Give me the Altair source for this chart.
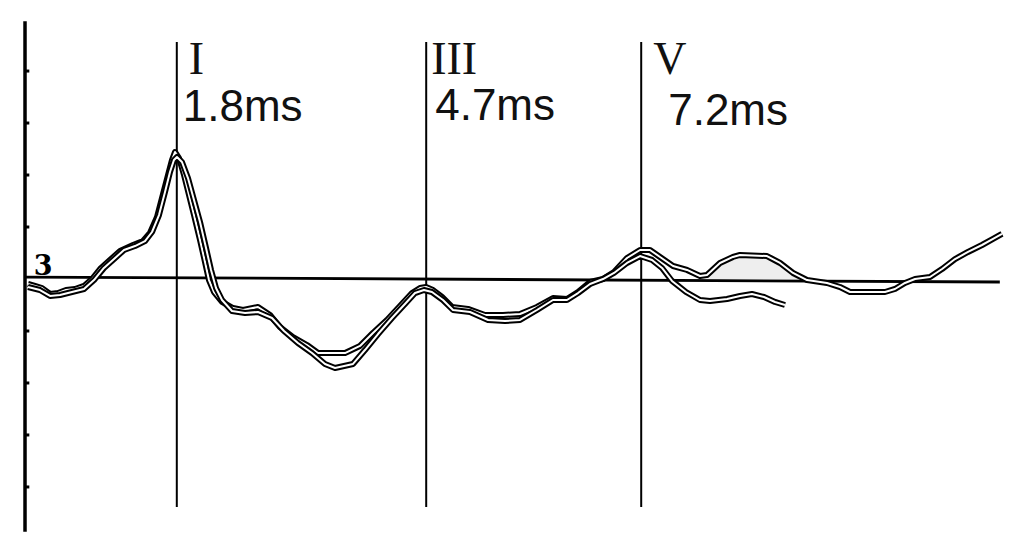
import altair as alt
import pandas as pd

# ---- data (time in ms, amplitude in arbitrary µV-like units) ----
trace_a_ms = [0.070, 0.151, 0.233, 0.326, 0.419, 0.512, 0.616, 0.721, 0.814, 0.907,
              1.023, 1.140, 1.291, 1.407, 1.488, 1.570, 1.640, 1.698, 1.744, 1.779,
              1.826, 1.884, 1.942, 2.000, 2.070, 2.128, 2.174, 2.233, 2.326, 2.453,
              2.570, 2.744, 2.884, 3.000, 3.151, 3.314, 3.442, 3.756, 3.930, 4.081,
              4.244, 4.395, 4.535, 4.628, 4.698, 4.779, 4.884, 5.000, 5.186, 5.384,
              5.593, 5.791, 5.988, 6.174, 6.337, 6.465, 6.605, 6.756, 6.884, 7.035,
              7.186, 7.302, 7.419, 7.570, 7.733, 7.884, 7.965, 8.116, 8.267, 8.349,
              8.663, 8.814, 8.965, 9.128, 9.360, 9.512, 9.628, 10.035, 10.151, 10.267,
              10.384, 10.558, 10.698, 10.849, 11.000, 11.163, 11.291, 11.395]
trace_a_uv = [-0.048, -0.067, -0.087, -0.144, -0.135, -0.106, -0.096, -0.067, 0.000, 0.096,
              0.183, 0.269, 0.327, 0.365, 0.442, 0.596, 0.817, 1.000, 1.144, 1.221,
              1.163, 1.000, 0.808, 0.615, 0.375, 0.163, -0.010, -0.125, -0.221, -0.279,
              -0.298, -0.269, -0.346, -0.462, -0.558, -0.635, -0.712, -0.712, -0.644, -0.519,
              -0.394, -0.260, -0.135, -0.087, -0.077, -0.106, -0.173, -0.269, -0.288, -0.346,
              -0.346, -0.337, -0.269, -0.183, -0.192, -0.125, -0.029, 0.000, 0.067, 0.202,
              0.279, 0.279, 0.212, 0.125, 0.087, 0.029, 0.038, 0.154, 0.212, 0.231,
              0.221, 0.154, 0.058, -0.010, -0.038, -0.077, -0.125, -0.125, -0.096, -0.038,
              0.000, 0.019, 0.096, 0.192, 0.260, 0.327, 0.385, 0.433]

trace_b_ms = [0.070, 0.209, 0.326, 0.442, 0.581, 0.721, 0.837, 0.953, 1.070, 1.186,
              1.314, 1.430, 1.512, 1.593, 1.663, 1.721, 1.767, 1.802, 1.860, 1.930,
              2.000, 2.070, 2.140, 2.198, 2.256, 2.326, 2.442, 2.593, 2.744, 2.907,
              3.047, 3.209, 3.372, 3.523, 3.640, 3.849, 3.988, 4.140, 4.302, 4.453,
              4.570, 4.674, 4.767, 4.895, 5.012, 5.209, 5.419, 5.616, 5.791, 5.988,
              6.174, 6.337, 6.465, 6.605, 6.756, 6.884, 7.035, 7.186, 7.326, 7.442,
              7.558, 7.721, 7.884, 8.000, 8.198, 8.349, 8.488, 8.628, 8.756, 8.872]
trace_b_uv = [-0.077, -0.106, -0.163, -0.154, -0.125, -0.096, -0.010, 0.106, 0.192, 0.279,
              0.317, 0.365, 0.452, 0.615, 0.837, 1.029, 1.144, 1.173, 1.125, 0.971,
              0.760, 0.548, 0.298, 0.087, -0.087, -0.202, -0.308, -0.327, -0.317, -0.375,
              -0.500, -0.615, -0.712, -0.817, -0.856, -0.817, -0.683, -0.529, -0.375, -0.240,
              -0.135, -0.106, -0.125, -0.202, -0.298, -0.317, -0.394, -0.404, -0.394, -0.298,
              -0.202, -0.202, -0.135, -0.048, 0.000, 0.058, 0.154, 0.221, 0.183, 0.106,
              -0.019, -0.125, -0.202, -0.212, -0.192, -0.163, -0.144, -0.173, -0.221, -0.250]

marker_ms = [1.8, 4.7, 7.2]
marker_names = ["I", "III", "V"]
latency_labels = ["1.8ms", "4.7ms", "7.2ms"]

tick_uv = [-2.0, -1.5, -1.0, -0.5, 0.5, 1.0, 1.5, 2.0]
axis_ms = 0.035
axis_top_uv = 2.48
axis_bottom_uv = -2.43
baseline_ms = [0.035, 11.37]
baseline_uv = [0.019, -0.029]

# ---- tables ----
df_a = pd.DataFrame({"ms": trace_a_ms, "uv": trace_a_uv, "i": range(len(trace_a_ms))})
df_b = pd.DataFrame({"ms": trace_b_ms, "uv": trace_b_uv, "i": range(len(trace_b_ms))})
df_markers = pd.DataFrame({"ms": marker_ms, "name": marker_names, "lat": latency_labels})
df_ticks = pd.DataFrame({"uv": tick_uv, "x0": axis_ms, "x1": axis_ms + 0.05})
df_axis = pd.DataFrame({"ms": [axis_ms], "top": [axis_top_uv], "bot": [axis_bottom_uv]})
df_base = pd.DataFrame({"ms": baseline_ms, "uv": baseline_uv})

xs = alt.Scale(domain=[0, 11.5], nice=False, zero=False)
ys = alt.Scale(domain=[-2.51, 2.587], nice=False, zero=False)
X = lambda f="ms": alt.X(f"{f}:Q", scale=xs, axis=None)
Y = lambda f="uv": alt.Y(f"{f}:Q", scale=ys, axis=None)

# faint stippled shading of the scan under wave V's second hump
shade = alt.Chart(df_a).transform_filter(
    (alt.datum.ms >= 7.96) & (alt.datum.ms <= 9.13)
).transform_calculate(z="0").mark_area(color="#d4d4d4", opacity=0.4).encode(
    x=X(), y=Y(), y2="z:Q")

axis_line = alt.Chart(df_axis).mark_rule(color="black", strokeWidth=3.5).encode(
    x=X("ms"), y=Y("top"), y2="bot:Q")
ticks = alt.Chart(df_ticks).mark_rule(color="black", strokeWidth=3).encode(
    x=X("x0"), x2="x1:Q", y=Y("uv"))
baseline = alt.Chart(df_base).mark_line(color="black", strokeWidth=2.8).encode(
    x=X(), y=Y())
markers = alt.Chart(df_markers).mark_rule(color="black", strokeWidth=2).encode(
    x=X(), y=alt.value(32), y2=alt.value(497))


def hollow(df):
    outer = alt.Chart(df).mark_line(color="black", strokeWidth=6, strokeJoin="round").encode(
        x=X(), y=Y(), order="i:Q")
    inner = alt.Chart(df).mark_line(color="white", strokeWidth=2, strokeJoin="round").encode(
        x=X(), y=Y(), order="i:Q")
    return outer + inner


layers = [shade, axis_line, ticks, baseline, markers, hollow(df_a), hollow(df_b)]

roman_dx = [12, 5, 12]
lat_dx = [6, 9, 27]
lat_y = [111, 110, 115]
for k in range(3):
    row = df_markers.iloc[[k]]
    layers.append(alt.Chart(row).mark_text(
        align="left", baseline="alphabetic", font="Liberation Serif", fontSize=46,
        color="#111111", dx=roman_dx[k]).encode(x=X(), y=alt.value(64), text="name:N"))
    layers.append(alt.Chart(row).mark_text(
        align="left", baseline="alphabetic", font="Liberation Sans", fontSize=44,
        color="#111111", dx=lat_dx[k]).encode(x=X(), y=alt.value(lat_y[k]), text="lat:N"))

layers.append(alt.Chart(pd.DataFrame({"ms": [0.245], "t": ["3"]})).mark_text(
    align="center", baseline="alphabetic", font="DejaVu Serif", fontWeight="bold",
    fontSize=27, color="black").encode(x=X(), y=alt.value(265), text="t:N"))

chart = alt.layer(*layers).properties(
    width=989, height=530,
    autosize=alt.AutoSizeParams(type="none"),
    padding={"left": 14, "top": 2, "right": 0, "bottom": 0},
    background="white",
).configure_view(stroke=None)

chart.save("out.html", embed_options={"renderer": "svg", "actions": False})
